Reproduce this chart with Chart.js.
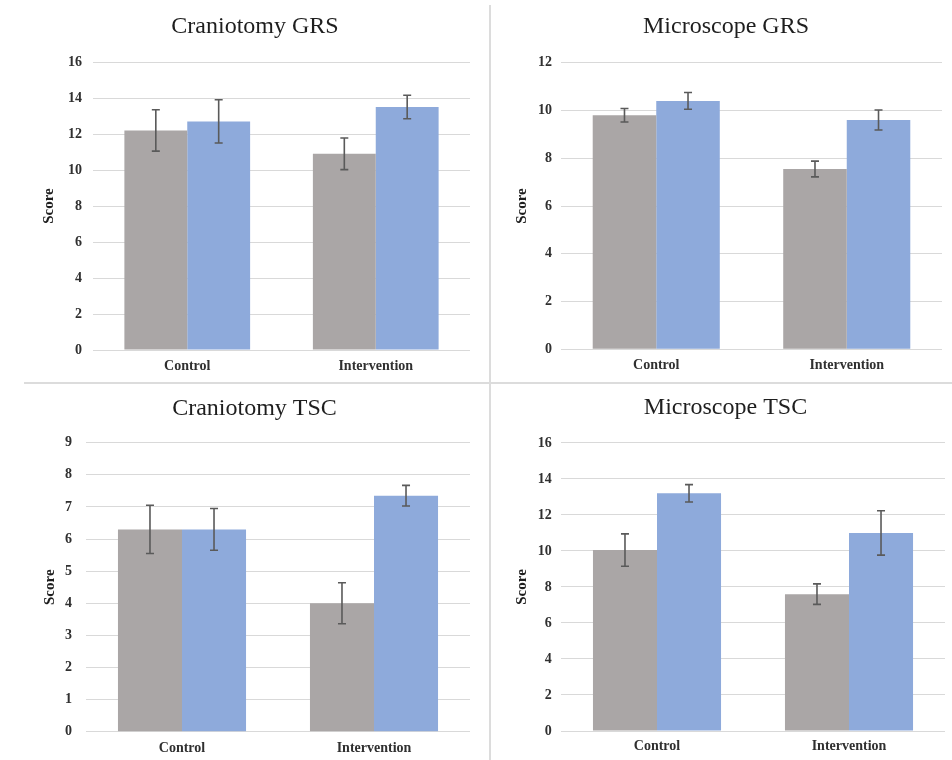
<!DOCTYPE html>
<html>
<head>
<meta charset="utf-8">
<script src="https://cdn.jsdelivr.net/npm/chart.js@4/dist/chart.umd.min.js"></script>
<style>
  html, body { margin: 0; padding: 0; background: #fff; }
  #page { position: relative; width: 952px; height: 760px; overflow: hidden; background: #fff; }
  .panel { position: absolute; }
  .vrule { position: absolute; left: 489px; top: 5px; width: 2px; height: 755px; background: #dcdcdc; }
  .hrule { position: absolute; left: 24px; top: 382px; width: 928px; height: 2px; background: #dcdcdc; }
</style>
</head>
<body>
<div id="page">
  <canvas id="c1" class="panel" width="489" height="382" style="left:0;top:0"></canvas>
  <canvas id="c2" class="panel" width="461" height="382" style="left:491px;top:0"></canvas>
  <canvas id="c3" class="panel" width="489" height="375" style="left:0;top:385px"></canvas>
  <canvas id="c4" class="panel" width="461" height="375" style="left:491px;top:385px"></canvas>
  <div class="vrule"></div>
  <div class="hrule"></div>
</div>
<script>
// Groups on the x axis
const categories = ['Control', 'Intervention'];

// Craniotomy GRS
const cranGrsA = [12.2, 10.9];
const cranGrsB = [12.7, 13.5];
const cranGrsErrA = [1.15, 0.88];
const cranGrsErrB = [1.2, 0.65];

// Microscope GRS
const micGrsA = [9.8, 7.55];
const micGrsB = [10.4, 9.6];
const micGrsErrA = [0.28, 0.33];
const micGrsErrB = [0.35, 0.42];

// Craniotomy TSC
const cranTscA = [6.3, 4.0];
const cranTscB = [6.3, 7.35];
const cranTscErrA = [0.75, 0.64];
const cranTscErrB = [0.65, 0.32];

// Microscope TSC
const micTscA = [10.05, 7.6];
const micTscB = [13.2, 11.0];
const micTscErrA = [0.9, 0.57];
const micTscErrB = [0.48, 1.23];

// Axis ranges
const cranGrsAxis = { max: 16, step: 2 };
const micGrsAxis = { max: 12, step: 2 };
const cranTscAxis = { max: 9, step: 1 };
const micTscAxis = { max: 16, step: 2 };

const GREY = '#aaa6a6';
const BLUE = '#8eaadb';
const SERIF = '"Liberation Serif", "DejaVu Serif", serif';

// Draws +/- error whiskers with caps on top of each bar
const errorBars = {
  id: 'errorBars',
  afterDatasetsDraw(chart) {
    const ctx = chart.ctx;
    const y = chart.scales.y;
    chart.data.datasets.forEach((ds, i) => {
      const meta = chart.getDatasetMeta(i);
      meta.data.forEach((bar, j) => {
        const v = ds.data[j];
        const e = ds.errors[j];
        const yTop = y.getPixelForValue(v + e);
        const yBot = y.getPixelForValue(v - e);
        const x = bar.x;
        ctx.save();
        ctx.strokeStyle = '#5a5a5a';
        ctx.lineWidth = 1.6;
        ctx.beginPath();
        ctx.moveTo(x, yTop); ctx.lineTo(x, yBot);
        ctx.moveTo(x - 4, yTop); ctx.lineTo(x + 4, yTop);
        ctx.moveTo(x - 4, yBot); ctx.lineTo(x + 4, yBot);
        ctx.stroke();
        ctx.restore();
      });
    });
  }
};

function makePanel(id, title, a, b, errA, errB, axis, lay) {
  const canvas = document.getElementById(id);
  new Chart(canvas, {
    type: 'bar',
    data: {
      labels: categories,
      datasets: [
        { data: a, errors: errA, backgroundColor: GREY, borderWidth: 0,
          categoryPercentage: 0.667, barPercentage: 1.0 },
        { data: b, errors: errB, backgroundColor: BLUE, borderWidth: 0,
          categoryPercentage: 0.667, barPercentage: 1.0 }
      ]
    },
    options: {
      responsive: false,
      animation: false,
      devicePixelRatio: 1,
      layout: { padding: { left: lay.padL, right: lay.padR, top: 0, bottom: 0 } },
      plugins: {
        legend: { display: false },
        tooltip: { enabled: false },
        title: {
          display: true,
          text: title,
          color: '#1e1e1e',
          font: { family: SERIF, size: 24, weight: 'normal', lineHeight: 1.2 },
          padding: { top: lay.titleTop, bottom: lay.titleBottom }
        }
      },
      scales: {
        x: {
          grid: { display: false, drawTicks: false },
          border: { display: false },
          ticks: {
            color: '#303030',
            padding: lay.xPad,
            font: { family: SERIF, size: 14, weight: 'bold', lineHeight: 1.2 }
          },
          afterFit: (s) => { s.height = lay.xH; }
        },
        y: {
          min: 0,
          max: axis.max,
          grid: { color: '#d9d9d9', lineWidth: 1, drawTicks: false },
          border: { display: false },
          ticks: {
            stepSize: axis.step,
            color: '#303030',
            padding: lay.yPad,
            font: { family: SERIF, size: 14, weight: 'bold', lineHeight: 1.2 }
          },
          title: {
            display: true,
            text: 'Score',
            color: '#1e1e1e',
            padding: { top: lay.yTitlePad, bottom: 0 },
            font: { family: SERIF, size: 15, weight: 'bold', lineHeight: 1.2 }
          },
          afterFit: (s) => { s.width = lay.yW; }
        }
      }
    },
    plugins: [errorBars]
  });
}

makePanel('c1', 'Craniotomy GRS', cranGrsA, cranGrsB, cranGrsErrA, cranGrsErrB, cranGrsAxis,
  { padL: 40, padR: 19, titleTop: 12.6, titleBottom: 20.6, xH: 32, xPad: 7.6, yW: 53, yPad: 11, yTitlePad: 0 });
makePanel('c2', 'Microscope GRS', micGrsA, micGrsB, micGrsErrA, micGrsErrB, micGrsAxis,
  { padL: 19, padR: 10, titleTop: 12.6, titleBottom: 21.3, xH: 32.7, xPad: 7.3, yW: 51, yPad: 9, yTitlePad: 3 });
makePanel('c3', 'Craniotomy TSC', cranTscA, cranTscB, cranTscErrA, cranTscErrB, cranTscAxis,
  { padL: 39, padR: 19, titleTop: 8.9, titleBottom: 20, xH: 28.3, xPad: 8.2, yW: 47, yPad: 14, yTitlePad: 2 });
makePanel('c4', 'Microscope TSC', micTscA, micTscB, micTscErrA, micTscErrB, micTscAxis,
  { padL: 15, padR: 7, titleTop: 8.6, titleBottom: 20.5, xH: 29, xPad: 7.3, yW: 55, yPad: 9.3, yTitlePad: 6.7 });
</script>
</body>
</html>
